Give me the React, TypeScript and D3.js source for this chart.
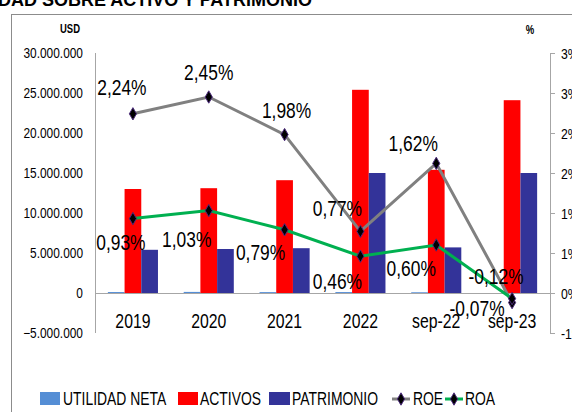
import React from "react";
import * as d3 from "d3";

const categories = ["2019", "2020", "2021", "2022", "sep-22", "sep-23"];
const utilidadNeta = [120000, 136000, 112000, 117000, 92000, -17000];
const activos = [13000000, 13100000, 14100000, 25400000, 15400000, 24100000];
const patrimonio = [5400000, 5500000, 5600000, 15000000, 5700000, 15000000];
const roe = [2.24, 2.45, 1.98, 0.77, 1.62, -0.12];
const roa = [0.93, 1.03, 0.79, 0.46, 0.6, -0.07];
const leftTicks = [-5000000, 0, 5000000, 10000000, 15000000, 20000000, 25000000, 30000000];
const rightTicks = [-0.5, 0, 0.5, 1, 1.5, 2, 2.5, 3];

// label placement offsets (dx, dy from point, baseline)
const roeLabelOffset: [number, number][] = [[-11, -19], [0, -17], [2, -17], [-23, -15], [-23, -12], [-16, -19]];
const roaLabelOffset: [number, number][] = [[-12, 31], [-22, 36], [-24, 30], [-23, 33], [-25, 31], [-35, 17]];

const FONT = "'Liberation Sans', Arial, sans-serif";
const SX = 0.79;

const fmtLeft = (v: number) => (v === 0 ? "0" : d3.format(",")(v).replace(/,/g, "."));
const fmtPct = (v: number) => `${v.toFixed(2).replace(".", ",")}%`;
const rightFmt = (v: number) => (v === -0.5 ? "-1%" : `${Math.round(v + 1e-9)}%`);

type TProps = {
  x: number;
  y: number;
  size: number;
  sx?: number;
  anchor?: "start" | "middle" | "end";
  bold?: boolean;
  children: React.ReactNode;
};
function T({ x, y, size, sx = SX, anchor = "start", bold = false, children }: TProps) {
  return (
    <text
      transform={`translate(${x},${y}) scale(${sx},1)`}
      textAnchor={anchor}
      fontFamily={FONT}
      fontSize={size}
      fontWeight={bold ? "bold" : "normal"}
      fill="#000"
    >
      {children}
    </text>
  );
}

export default function App() {
  const W = 572, H = 412;
  const x0 = 95, x1 = 550;
  const y = d3.scaleLinear().domain([-5000000, 30000000]).range([333, 53]);
  const yr = d3.scaleLinear().domain([-0.5, 3]).range([333, 53]);
  const x = d3.scaleBand<string>().domain(categories).range([x0, x1]).paddingInner(0).paddingOuter(0);
  const cx = (c: string) => (x(c) as number) + x.bandwidth() / 2;
  const barW = 16.7;
  const series = [
    { name: "UTILIDAD NETA", values: utilidadNeta, color: "#558ED5" },
    { name: "ACTIVOS", values: activos, color: "#FF0000" },
    { name: "PATRIMONIO", values: patrimonio, color: "#333399" },
  ];
  const line = d3.line<number>().x((_, i) => cx(categories[i])).y((d) => yr(d));
  const diamond = d3.symbol().type(d3.symbolDiamond).size(44)() as string;

  return (
    <div style={{ position: "absolute", left: 0, top: 0 }}>
      <svg width={W} height={H} style={{ display: "block", background: "#fff" }}>
        <T x={312} y={6} size={18} sx={1} anchor="end" bold>
          RENTABILIDAD SOBRE ACTIVO Y PATRIMONIO
        </T>
        <rect x={11.5} y={14.5} width={600} height={420} fill="none" stroke="#8c8c8c" strokeWidth={1} />
        <T x={70} y={33} size={12} anchor="middle" bold>USD</T>
        <T x={530} y={34} size={12} anchor="middle" bold>%</T>

        {/* left axis */}
        <line x1={x0 + 0.5} x2={x0 + 0.5} y1={y(30000000)} y2={y(-5000000)} stroke="#a6a6a6" />
        {leftTicks.map((t) => (
          <T key={t} x={83} y={y(t) + 5} size={14} sx={0.85} anchor="end">
            {fmtLeft(t)}
          </T>
        ))}
        {/* right axis */}
        <line x1={x1 + 0.5} x2={x1 + 0.5} y1={yr(3)} y2={yr(-0.5)} stroke="#a6a6a6" />
        {rightTicks.map((t) => (
          <g key={t}>
            <line x1={x1} x2={x1 + 5} y1={yr(t) + 0.5} y2={yr(t) + 0.5} stroke="#a6a6a6" />
            <T x={561} y={yr(t) + 5.5} size={15.5}>{rightFmt(t)}</T>
          </g>
        ))}

        {/* bars */}
        {series.map((s, si) =>
          s.values.map((v, i) => {
            const bx = cx(categories[i]) - 1.5 * barW + si * barW;
            const top = y(Math.max(v, 0));
            const h = Math.max(Math.abs(y(v) - y(0)), 1);
            return <rect key={s.name + i} x={bx} y={top} width={barW} height={h} fill={s.color} />;
          })
        )}

        {/* zero line */}
        <line x1={x0} x2={x1} y1={y(0) + 0.5} y2={y(0) + 0.5} stroke="#a6a6a6" />

        {/* category labels */}
        {categories.map((c) => (
          <T key={c} x={cx(c)} y={328} size={20} anchor="middle">{c}</T>
        ))}

        {/* lines */}
        <path d={line(roe) as string} fill="none" stroke="#808080" strokeWidth={3} />
        <path d={line(roa) as string} fill="none" stroke="#00B050" strokeWidth={3} />
        {[roe, roa].map((arr, k) =>
          arr.map((v, i) => (
            <path key={k + "-" + i} d={diamond} transform={`translate(${cx(categories[i])},${yr(v)})`} fill="#000" stroke="#4b2a7b" strokeWidth={1} />
          ))
        )}

        {/* data labels */}
        {roe.map((v, i) => (
          <T key={"rl" + i} x={cx(categories[i]) + roeLabelOffset[i][0]} y={yr(v) + roeLabelOffset[i][1]} size={22} anchor="middle">
            {fmtPct(v)}
          </T>
        ))}
        {roa.map((v, i) => (
          <T key={"al" + i} x={cx(categories[i]) + roaLabelOffset[i][0]} y={yr(v) + roaLabelOffset[i][1]} size={22} anchor="middle">
            {fmtPct(v)}
          </T>
        ))}

        {/* legend */}
        <rect x={40} y={392} width={20} height={13} fill="#558ED5" />
        <T x={63} y={405} size={17.6}>UTILIDAD NETA</T>
        <rect x={178} y={392} width={20} height={13} fill="#FF0000" />
        <T x={200} y={405} size={17.6}>ACTIVOS</T>
        <rect x={269} y={392} width={21} height={13} fill="#333399" />
        <T x={292} y={405} size={17.6}>PATRIMONIO</T>
        <line x1={392} x2={410} y1={399} y2={399} stroke="#808080" strokeWidth={3} />
        <path d={diamond} transform="translate(401,399)" fill="#000" stroke="#4b2a7b" />
        <T x={413} y={405} size={17.6}>ROE</T>
        <line x1={445} x2={463} y1={399} y2={399} stroke="#00B050" strokeWidth={3} />
        <path d={diamond} transform="translate(454,399)" fill="#000" stroke="#4b2a7b" />
        <T x={465} y={405} size={17.6}>ROA</T>
      </svg>
    </div>
  );
}
